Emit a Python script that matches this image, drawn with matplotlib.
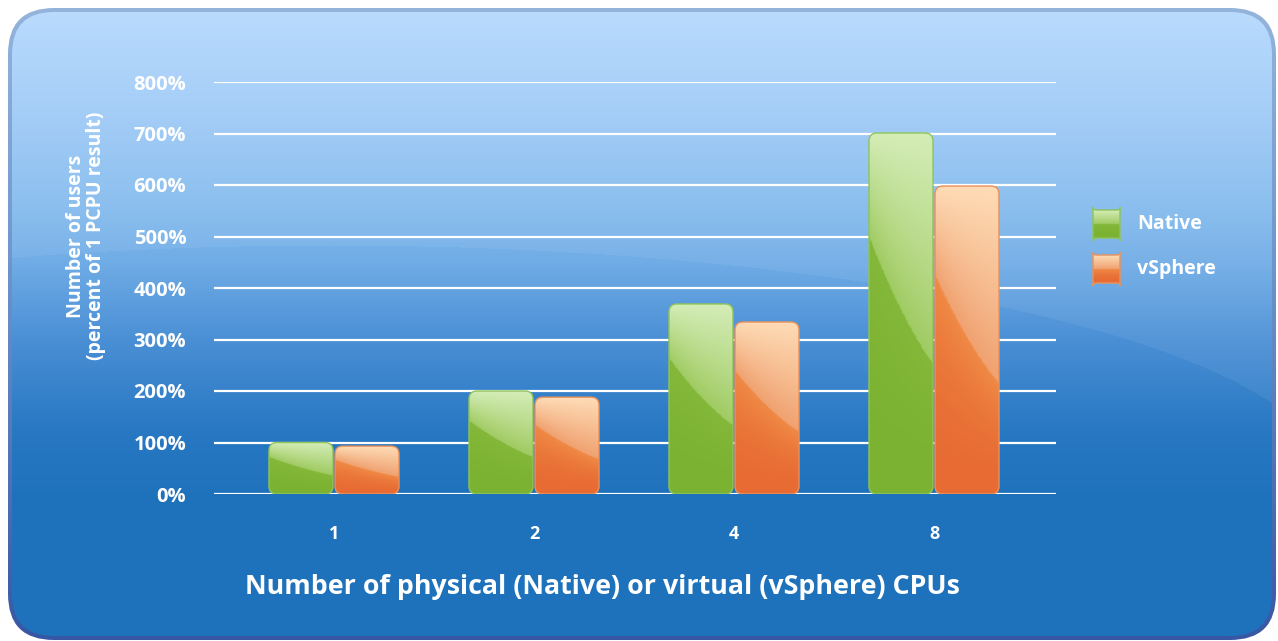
#!/usr/bin/env python3
"""Native vs vSphere CPU scaling, glossy bar chart on a blue panel."""
import matplotlib
matplotlib.use("Agg")
import matplotlib.pyplot as plt
import numpy as np
from matplotlib.colors import to_rgb
from matplotlib.patches import FancyBboxPatch

cpus = ["1", "2", "4", "8"]
native = [100, 200, 369, 701]      # percent of 1 PCPU result
vsphere = [93, 188, 334, 598]
yticks = [0, 100, 200, 300, 400, 500, 600, 700, 800]

W, H = 1278, 641
GREEN = dict(light="#d5edb8", mid="#a0cb62", dtop="#84b83a", dbot="#7cb232", edge="#8ec45a")
ORANGE = dict(light="#fedcb6", mid="#f0a170", dtop="#f08a46", dbot="#e76b33", edge="#ea915a")

plt.rcParams.update({"font.family": ["Open Sans", "DejaVu Sans"]})


def vgrad(stops, n):
    """stops: list of (pos 0..1, color) -> (n, 3) array"""
    pos = np.array([s[0] for s in stops])
    cols = np.array([to_rgb(s[1]) for s in stops])
    t = np.linspace(0, 1, n)
    return np.stack([np.interp(t, pos, cols[:, k]) for k in range(3)], axis=1)


def gloss_img(c, nx=60, ny=240, flat=False):
    u = np.linspace(0, 1, nx)[None, :]
    v = np.linspace(0, 1, ny)[:, None]
    vb = (0.5 + 0.0 * u) if flat else (0.71 - 0.45 * u + 0.1 * u ** 2)
    L, M = np.array(to_rgb(c["light"])), np.array(to_rgb(c["mid"]))
    DT, DB = np.array(to_rgb(c["dtop"])), np.array(to_rgb(c["dbot"]))
    up = np.clip((v - vb) / (1 - vb), 0, 1)[..., None]
    top = M + (L - M) * up
    lo = np.clip(v / vb, 0, 1)[..., None]
    bot = DB + (DT - DB) * lo ** 2
    return np.where((v > vb)[..., None], top, bot)


def glossy_box(axis, x0, y0, w, h, c, r, aspect, z=3, flat=False):
    patch = FancyBboxPatch((x0, y0), w, h, boxstyle=f"round,pad=0,rounding_size={r}",
                           mutation_aspect=aspect, fc="none", ec=c["edge"], lw=1.0, zorder=z + 1)
    axis.add_patch(patch)
    im = axis.imshow(gloss_img(c, flat=flat), extent=(x0, x0 + w, y0, y0 + h), origin="lower",
                     aspect="auto", interpolation="bilinear", zorder=z)
    im.set_clip_path(patch)
    return patch


fig = plt.figure(figsize=(W / 100, H / 100), dpi=100)

# ---- background panel (pixel coordinates) ----
bg = fig.add_axes([0, 0, 1, 1], zorder=-1)
bg.set_xlim(0, W)
bg.set_ylim(H, 0)
bg.axis("off")
border = vgrad([(0, "#95b5dc"), (0.4, "#7096cc"), (1, "#3757a4")], H)
outer = FancyBboxPatch((8, 8), W - 10, H - 9, boxstyle="round,pad=0,rounding_size=46",
                       fc="none", ec="none")
bg.add_patch(outer)
im = bg.imshow(np.repeat(border[:, None, :], 4, axis=1), extent=(0, W, H, 0),
               aspect="auto", origin="upper")
im.set_clip_path(outer)

fill = vgrad([(0, "#b6dafe"), (100 / H, "#a2ccf7"), (200 / H, "#86bcee"), (262 / H, "#70ace6"),
              (340 / H, "#4a8fd5"), (430 / H, "#2878c3"), (500 / H, "#1e72bb"), (1, "#1e72bb")], H)
img = np.repeat(fill[:, None, :], W, axis=1)
xs = np.arange(W)[None, :]
ys = np.arange(H)[:, None]
arc = 482.5 - 237.5 * np.sqrt(np.clip(1 - ((xs - 330) / 1000.0) ** 2, 0, 1))
above = (ys < arc)[..., None]
img = np.where(above, img * 0.94 + 0.06, img)
inner = FancyBboxPatch((12, 12), W - 18, H - 17, boxstyle="round,pad=0,rounding_size=42",
                       fc="none", ec="none")
bg.add_patch(inner)
im2 = bg.imshow(img, extent=(0, W, H, 0), aspect="auto", origin="upper")
im2.set_clip_path(inner)

# ---- main axes ----
ax = fig.add_axes([214 / W, 1 - 494 / H, (1056 - 214) / W, (494 - 82) / H])
ax.set_facecolor("none")
ax.set_xlim(-0.6, 3.61)
ax.set_ylim(0, 800)
x = np.arange(len(cpus))
bw = 0.32
b1 = ax.bar(x - 0.165, native, bw, alpha=0)
b2 = ax.bar(x + 0.165, vsphere, bw, alpha=0)

ppx = ax.get_position().width * W / 4.21
ppy = ax.get_position().height * H / 800
aspect = ppx / ppy
r = 8 / ppx
for bars, c in ((b1, GREEN), (b2, ORANGE)):
    for b in bars:
        glossy_box(ax, b.get_x(), 0, b.get_width(), b.get_height(), c, r, aspect)

ax.set_yticks(yticks)
ax.set_yticklabels([f"{t}%" for t in yticks])
ax.set_xticks(x)
ax.set_xticklabels(cpus)
ax.grid(axis="y", color="white", lw=1.6)
ax.set_axisbelow(True)
for sp in ax.spines.values():
    sp.set_visible(False)
ax.tick_params(axis="y", length=0, pad=20, labelsize=14.5, labelcolor="white")
ax.tick_params(axis="x", length=0, pad=22, labelsize=13, labelcolor="white")
for t in ax.get_yticklabels() + ax.get_xticklabels():
    t.set_fontweight("bold")

ax.set_ylabel("Number of users\n(percent of 1 PCPU result)", color="white", fontsize=14,
              fontweight="bold", linespacing=1.0)
ax.yaxis.label.set_va("center")
ax.yaxis.set_label_coords((86 - 214) / 842, (494 - 236) / 412)
ax.set_xlabel("Number of physical (Native) or virtual (vSphere) CPUs", color="white",
              fontsize=19.3, fontweight="bold")
ax.xaxis.label.set_va("center")
ax.xaxis.set_label_coords((602 - 214) / 842, (494 - 587) / 412)

# ---- legend (pixel coordinates on the panel) ----
for (name, c), yc in zip((("Native", GREEN), ("vSphere", ORANGE)), (224, 269)):
    glossy_box(bg, 1093, yc + 14, 27, -28, c, 3, 1, z=5, flat=True)
    bg.text(1137, yc, name, color="white", fontsize=14, fontweight="bold",
            ha="left", va="center", zorder=6)

fig.savefig("out.png", dpi=100)
print("saved out.png")
